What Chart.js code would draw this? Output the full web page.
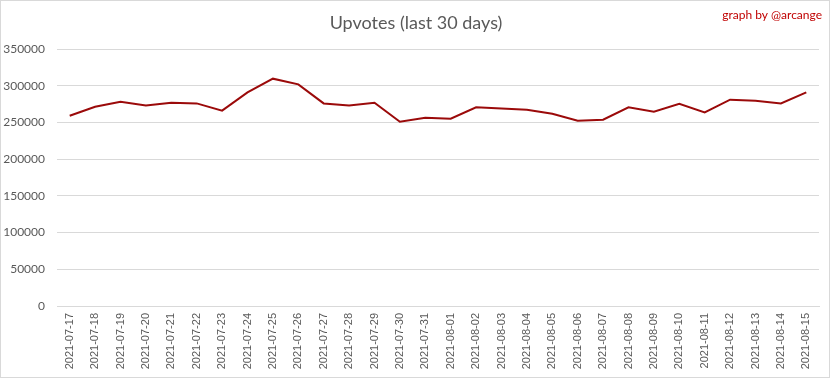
<!DOCTYPE html>
<html>
<head>
<meta charset="utf-8">
<script src="https://cdn.jsdelivr.net/npm/chart.js@4/dist/chart.umd.min.js"></script>
<style>
html,body{margin:0;padding:0;background:#fff;}
#wrap{width:832px;height:379px;position:relative;}
</style>
</head>
<body>
<div id="wrap"><canvas id="c" width="832" height="379"></canvas></div>
<script>
const categories = ["2021-07-17","2021-07-18","2021-07-19","2021-07-20","2021-07-21","2021-07-22","2021-07-23","2021-07-24","2021-07-25","2021-07-26","2021-07-27","2021-07-28","2021-07-29","2021-07-30","2021-07-31","2021-08-01","2021-08-02","2021-08-03","2021-08-04","2021-08-05","2021-08-06","2021-08-07","2021-08-08","2021-08-09","2021-08-10","2021-08-11","2021-08-12","2021-08-13","2021-08-14","2021-08-15"];
const upvotes = [259100,271400,278200,273200,276900,275900,266000,290900,309600,301800,275900,273200,276900,251000,256400,255000,270500,269100,267300,261900,252300,253700,270500,264600,275500,263600,281000,279600,275900,290900];
const yTicks = [0,50000,100000,150000,200000,250000,300000,350000];
const titleText = "Upvotes (last 30 days)";
const creditText = "graph by @arcange";

const decor = {
  id: 'decor',
  beforeDraw(chart) {
    const ctx = chart.ctx;
    ctx.save();
    ctx.fillStyle = '#fff';
    ctx.fillRect(0, 0, chart.width, chart.height);
    ctx.strokeStyle = '#d9d9d9';
    ctx.lineWidth = 1;
    ctx.strokeRect(0.5, 0.5, 829, 377);
    ctx.restore();
  },
  afterDraw(chart) {
    const ctx = chart.ctx;
    ctx.save();
    ctx.textBaseline = 'middle';
    ctx.textAlign = 'center';
    ctx.fillStyle = '#595959';
    ctx.font = '18px Lato, "Open Sans", sans-serif';
    ctx.fillText(titleText, 416, 23);
    ctx.textAlign = 'right';
    ctx.fillStyle = '#c00000';
    ctx.font = '12px Lato, "Open Sans", sans-serif';
    ctx.fillText(creditText, 822, 15);
    ctx.restore();
  }
};

new Chart(document.getElementById('c'), {
  type: 'line',
  data: {
    labels: categories,
    datasets: [{
      data: upvotes,
      borderColor: '#9b0a0a',
      borderWidth: 2,
      pointRadius: 0,
      tension: 0,
      fill: false
    }]
  },
  options: {
    responsive: false,
    animation: false,
    layout: { padding: { top: 49, right: 13, left: 0, bottom: 0 } },
    plugins: { legend: { display: false }, title: { display: false }, tooltip: { enabled: false } },
    scales: {
      x: {
        offset: true,
        grid: { display: false, drawTicks: false, offset: true },
        border: { display: true, color: '#d9d9d9', width: 1 },
        ticks: {
          minRotation: 90, maxRotation: 90, autoSkip: false, padding: 7,
          color: '#595959',
          font: { family: '"Liberation Sans", Arial, sans-serif', size: 11 }
        },
        afterFit(scale) { scale.height = 73; }
      },
      y: {
        min: 0, max: 350000,
        afterBuildTicks(scale) { scale.ticks = yTicks.map(v => ({ value: v })); },
        grid: { color: '#d9d9d9', drawTicks: false },
        border: { display: false },
        ticks: {
          padding: 12,
          color: '#595959',
          font: { family: 'Lato, "Open Sans", sans-serif', size: 12 },
          callback: (v) => String(v)
        },
        afterFit(scale) { scale.width = 57; }
      }
    }
  },
  plugins: [decor]
});
</script>
</body>
</html>
